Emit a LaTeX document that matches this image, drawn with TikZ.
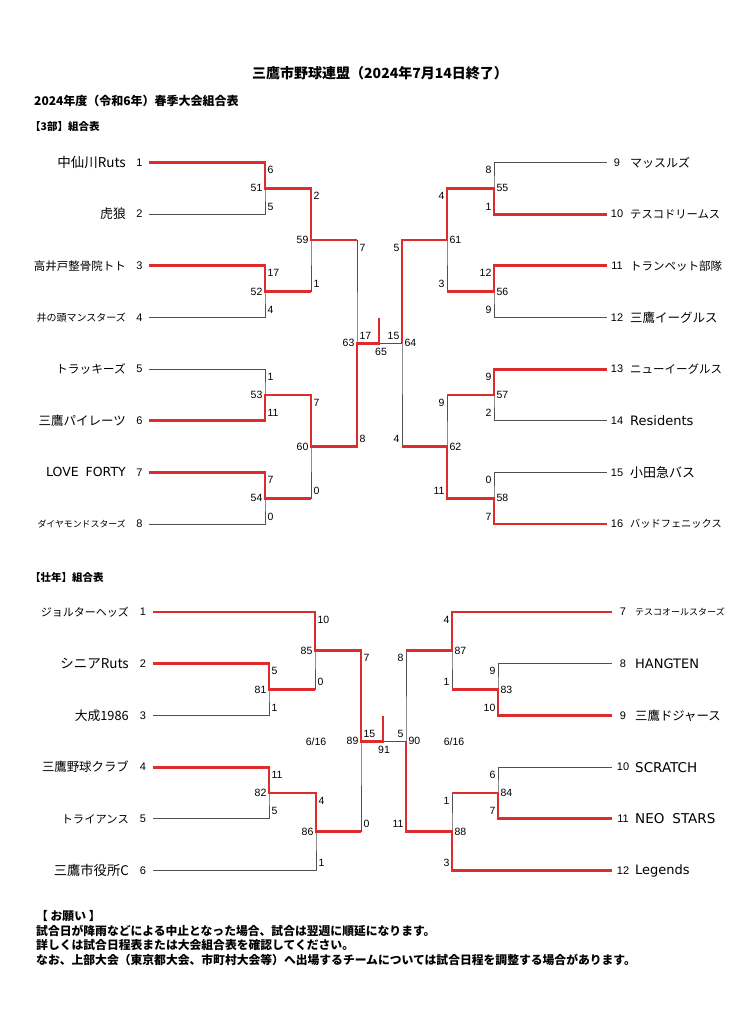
\documentclass[tikz,border=0pt]{standalone}
\usepackage{fontspec}
\setmainfont{Liberation Sans}
\newfontfamily\jp{Noto Sans CJK JP}
\newfontfamily\lat{DejaVu Sans}
\definecolor{tred}{RGB}{222,44,44}
\definecolor{tgray}{RGB}{80,80,80}

\begin{document}
\begin{tikzpicture}[x=1pt, y=-1pt,
    lose/.style={draw=tgray, line width=0.8pt},
    win/.style={draw=tred, line width=2.8pt},
    sc/.style={font=\fontsize{10.5}{11}\selectfont, inner sep=2.4pt},
    tno/.style={font=\fontsize{11}{11}\selectfont, inner sep=0pt},
    hd/.style={font=\jp\bfseries\fontsize{#1}{#1}\selectfont, anchor=west, inner sep=0pt},
    ft/.style={font=\jp\bfseries\fontsize{11.8}{12}\selectfont, anchor=west, inner sep=0pt}]
    \fill[white] (0,0) rectangle (736,1024);
    \useasboundingbox (0,0) rectangle (736,1024);

    \node[hd=14] (title) at (252,73) {三鷹市野球連盟（2024年7月14日終了）};
    \node[hd=12] (sub) at (34,101) {2024年度（令和6年）春季大会組合表};
    \node[hd=10.5] (head3) at (30,127) {【3部】組合表};
    \node[hd=10.5] (headS) at (30,577) {【壮年】組合表};

    % teams
    \foreach \nm/\ff/\fs [count=\i] in {中仙川Ruts/\jp/13.5, 虎狼/\jp/12.8, 高井戸整骨院トト/\jp/11.5, 井の頭マンスターズ/\jp/10, トラッキーズ/\jp/11.7, 三鷹パイレーツ/\jp/12.5, LOVE\hspace{7pt}FORTY/\lat/12.5, ダイヤモンドスターズ/\jp/8.9} {
        \coordinate (A\i) at (149,{162.5+51.65*(\i-1)});
        \node[tno] (an\i) at ([xshift=-9.5pt]A\i) {\i};
        \node[font=\ff\fontsize{\fs}{\fs}\selectfont, anchor=east, inner sep=0pt] (a\i) at ([xshift=-23pt]A\i) {\nm};
    }
    \foreach \nm/\ff/\fs [count=\i from 9] in {マッスルズ/\jp/12, テスコドリームス/\jp/11.3, トランペット部隊/\jp/11.5, 三鷹イーグルス/\jp/12.5, ニューイーグルス/\jp/11.5, Residents/\lat/13, 小田急バス/\jp/13, バッドフェニックス/\jp/10.2} {
        \coordinate (B\i) at (607,{162.5+51.65*(\i-9)});
        \node[tno] (bn\i) at ([xshift=10pt]B\i) {\i};
        \node[font=\ff\fontsize{\fs}{\fs}\selectfont, anchor=west, inner sep=0pt] (b\i) at ([xshift=23pt]B\i) {\nm};
    }
    \foreach \nm/\ff/\fs [count=\i] in {ジョルターヘッズ/\jp/11, シニアRuts/\jp/13.5, 大成1986/\jp/12.8, 三鷹野球クラブ/\jp/12.4, トライアンス/\jp/11.3, 三鷹市役所C/\jp/13.3} {
        \coordinate (C\i) at (153,{612+51.7*(\i-1)});
        \node[tno] (cn\i) at ([xshift=-10pt]C\i) {\i};
        \node[font=\ff\fontsize{\fs}{\fs}\selectfont, anchor=east, inner sep=0pt] (c\i) at ([xshift=-24pt]C\i) {\nm};
    }
    \foreach \nm/\ff/\fs [count=\i from 7] in {テスコオールスターズ/\jp/9, HANGTEN/\lat/13, 三鷹ドジャース/\jp/12.4, SCRATCH/\lat/13.5, NEO\hspace{8pt}STARS/\lat/13.5, Legends/\lat/13} {
        \coordinate (D\i) at (612,{612+51.7*(\i-7)});
        \node[tno] (dn\i) at ([xshift=11pt]D\i) {\i};
        \node[font=\ff\fontsize{\fs}{\fs}\selectfont, anchor=west, inner sep=0pt] (d\i) at ([xshift=23pt]D\i) {\nm};
    }

    % match points
    \foreach \m/\x/\y in {51/265/188.3, 52/265/291.7, 53/265/395, 54/265/498.3, 59/311/240, 60/311/446.6, 63/357/343.3,
        55/494/188.3, 56/494/291.7, 57/494/395, 58/494/498.3, 61/447/240, 62/447/446.6, 64/402/343.3, 65/379/343.3,
        81/269/689.6, 85/315/650.8, 82/269/793, 86/316/831.7, 89/361/741.3,
        83/498/689.6, 87/452/650.8, 84/498/793, 88/452/831.7, 90/406/741.3, 91/383/741.3}
        \coordinate (m\m) at (\x,\y);
    \coordinate (s65) at (379,318);
    \coordinate (s91) at (383,716);

    % bracket, left halves
    \foreach \a/\m/\b/\sa/\sb in {A1/51/A2/6/5, A3/52/A4/17/4, A5/53/A6/1/11, A7/54/A8/7/0, m51/59/m52/2/1, m53/60/m54/7/0, m59/63/m60/7/8,
        C2/81/C3/5/1, C1/85/m81/10/0, C4/82/C5/11/5, m82/86/C6/4/1, m85/89/m86/7/0} {
        \draw[lose] (\a) -| (m\m) |- (\b);
        \node[sc, anchor=west, yshift=-7.5pt] (sa\m) at (\a -| m\m) {\sa};
        \node[sc, anchor=west, yshift=7.5pt] (sb\m) at (\b -| m\m) {\sb};
        \node[sc, anchor=east] (n\m) at (m\m) {\m};
    }
    % bracket, right halves
    \foreach \a/\m/\b/\sa/\sb in {B9/55/B10/8/1, B11/56/B12/12/9, B13/57/B14/9/2, B15/58/B16/0/7, m55/61/m56/4/3, m57/62/m58/9/11, m61/64/m62/5/4,
        D8/83/D9/9/10, D7/87/m83/4/1, D10/84/D11/6/7, m84/88/D12/1/3, m87/90/m88/8/11} {
        \draw[lose] (\a) -| (m\m) |- (\b);
        \node[sc, anchor=east, yshift=-7.5pt] (sa\m) at (\a -| m\m) {\sa};
        \node[sc, anchor=east, yshift=7.5pt] (sb\m) at (\b -| m\m) {\sb};
        \node[sc, anchor=west] (n\m) at (m\m) {\m};
    }

    % finals
    \draw[lose] (m63) -- (m64);
    \draw[lose] (m89) -- (m90);
    \node[sc, anchor=west, xshift=0pt, yshift=7pt] (fa65) at (m63) {17};
    \node[sc, anchor=east, xshift=0pt, yshift=7pt] (fb65) at (m64) {15};
    \node[sc, xshift=2pt, yshift=-9pt] (n65) at (m65) {65};
    \node[sc, anchor=west, xshift=0pt, yshift=7pt] (fa91) at (m89) {15};
    \node[sc, anchor=east, xshift=0pt, yshift=7pt] (fb91) at (m90) {5};
    \node[sc, xshift=1pt, yshift=-9pt] (n91) at (m91) {91};
    \node[sc] (dateL) at (316,741.3) {6/16};
    \node[sc] (dateR) at (454,741.3) {6/16};

    % winners
    \draw[win] (A1) -| (m51) -| (m59) -- (m59 -| m63);
    \draw[win] (A3) -| (m52) -- (m52 -| m59);
    \draw[win] (A6) -| (m53) -| (m60) -| (m63) -- (m65) -- (s65);
    \draw[win] (A7) -| (m54) -- (m54 -| m60);
    \draw[win] (B10) -| (m55) -| (m61) -| (m64);
    \draw[win] (B11) -| (m56) -- (m56 -| m61);
    \draw[win] (B13) -| (m57) -- (m57 -| m62);
    \draw[win] (B16) -| (m58) -| (m62) -- (m62 -| m64);
    \draw[win] (C1) -| (m85) -| (m89) -- (m91) -- (s91);
    \draw[win] (C2) -| (m81) -- (m81 -| m85);
    \draw[win] (C4) -| (m82) -| (m86) -- (m86 -| m89);
    \draw[win] (D7) -| (m87) -- (m87 -| m90);
    \draw[win] (D9) -| (m83) -- (m83 -| m87);
    \draw[win] (D11) -| (m84) -- (m84 -| m88);
    \draw[win] (D12) -| (m88) -| (m90);

    \node[ft] (note0) at (36,916) {【\ お願い\ 】};
    \node[ft] (note1) at (36,931) {試合日が降雨などによる中止となった場合、試合は翌週に順延になります。};
    \node[ft] (note2) at (36,945) {詳しくは試合日程表または大会組合表を確認してください。};
    \node[ft] (note3) at (36,960) {なお、上部大会（東京都大会、市町村大会等）へ出場するチームについては試合日程を調整する場合があります。};
\end{tikzpicture}
\end{document}
